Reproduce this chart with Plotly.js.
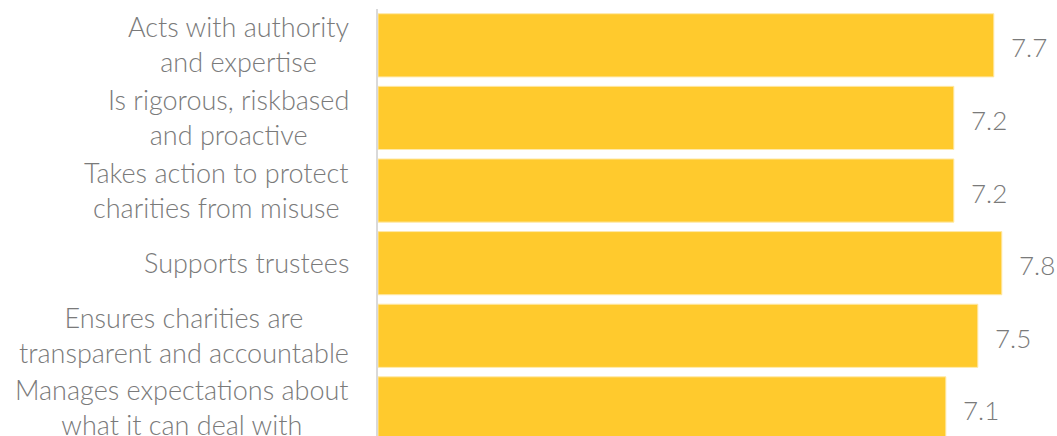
<!DOCTYPE html>
<html>
<head>
<meta charset="utf-8">
<script src="https://cdn.plot.ly/plotly-3.0.1.min.js"></script>
<style>html,body{margin:0;padding:0;background:#fff;}#chart{width:1057px;height:436px;}</style>
</head>
<body>
<div id="chart"></div>
<script>
const categories = [
  "Acts with authority<br>and expertise",
  "Is rigorous, riskbased<br>and proactive",
  "Takes action to protect<br>charities from misuse",
  "Supports trustees",
  "Ensures charities are<br>transparent and accountable",
  "Manages expectations about<br>what it can deal with"
];
const values = [7.7, 7.2, 7.2, 7.8, 7.5, 7.1];
const valueLabels = ["7.7", "7.2", "7.2", "7.8", "7.5", "7.1"];

const idx = categories.map((_, i) => i);
const FONT = "Lato, 'Open Sans', sans-serif";
const GRAY = "#7A7A7A";

const trace = {
  type: "bar",
  orientation: "h",
  y: idx,
  x: values,
  width: 0.87,
  marker: {color: "#FFCA2D", line: {color: "#FFE9A8", width: 1}},
  hoverinfo: "skip"
};

const annotations = [];
categories.forEach((c, i) => {
  annotations.push({
    xref: "paper", yref: "y", x: -0.04, y: i,
    xanchor: "right", yanchor: "middle", align: "center",
    text: c, showarrow: false, yshift: 1,
    font: {family: FONT, size: 27, weight: 300, color: GRAY}
  });
  annotations.push({
    xref: "x", yref: "y", x: values[i], y: i,
    xanchor: "left", yanchor: "middle", xshift: 15, yshift: -2,
    text: valueLabels[i], showarrow: false,
    font: {family: FONT, size: 26, weight: 300, color: GRAY}
  });
});

const layout = {
  width: 1057, height: 436,
  margin: {l: 378, r: 0, t: 9, b: 0},
  paper_bgcolor: "#fff", plot_bgcolor: "#fff",
  showlegend: false,
  xaxis: {range: [0, 8.49], showgrid: false, zeroline: false, showticklabels: false, ticks: "", showline: false},
  yaxis: {range: [5.38, -0.5], showgrid: false, zeroline: false, showticklabels: false, ticks: "",
          showline: true, linecolor: "#D9D9D9", linewidth: 2},
  annotations: annotations
};

Plotly.newPlot("chart", [trace], layout, {staticPlot: true, displayModeBar: false});
</script>
</body>
</html>
